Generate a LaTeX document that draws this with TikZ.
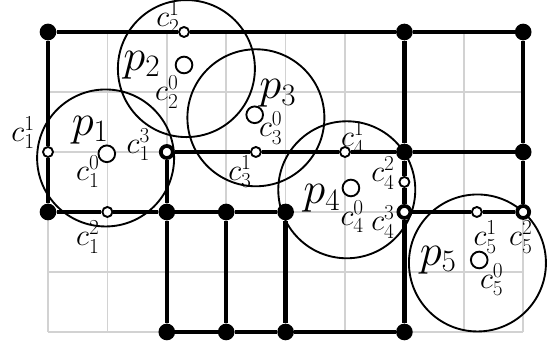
\RequirePackage{fix-cm}
\documentclass[tikz,border=0pt]{standalone}
\usepackage{amsmath,amssymb}
\usepackage{xcolor}
\usetikzlibrary{positioning}

\begin{document}
\begin{tikzpicture}[x=1.782cm, y=1.8cm,
		gridline/.style={line width=1.5pt, gray!35},
		wire/.style={line width=3.8pt},
		zone/.style={line width=1.6pt},
		fulldot/.style={circle, fill=black, inner sep=0pt, minimum size=0.5cm},
		hollow/.style={circle, draw, fill=white, line width=1.6pt, inner sep=0pt, minimum size=0.3cm},
		hollowbold/.style={hollow, line width=3.2pt, minimum size=0.36cm},
		centre/.style={hollow, minimum size=0.5cm},
		lbl/.style={font=\fontsize{26}{30}\selectfont, inner sep=0pt},
		plbl/.style={font=\fontsize{38}{44}\selectfont, inner sep=0pt}]
				\useasboundingbox (-0.808,-0.267) rectangle (8.502,5.533);
				\draw[gridline, step=1] (0,0) grid (8,5);
				
				\coordinate (P1) at (0.97, 2.90);
				\coordinate (P2) at (2.33, 4.39);
				\coordinate (P3) at (3.50, 3.57);
				\coordinate (P4) at (5.03, 2.37);
				\coordinate (P5) at (7.23, 1.15);
				
				\draw[zone] (P1) circle (2.055cm);
				\draw[zone] (P2) circle (2.055cm);
				\draw[zone] (P3) circle (2.055cm);
				\draw[zone] (P4) circle (2.055cm);
				\draw[zone] (P5) circle (2.055cm);
				
				\node[fulldot] (a05) at (0,5) {};
				\node[fulldot] (a65) at (6,5) {};
				\node[fulldot] (a85) at (8,5) {};
				\node[fulldot] (a02) at (0,2) {};
				\node[fulldot] (a22) at (2,2) {};
				\node[fulldot] (a32) at (3,2) {};
				\node[fulldot] (a42) at (4,2) {};
				\node[fulldot] (a63) at (6,3) {};
				\node[fulldot] (a83) at (8,3) {};
				\node[fulldot] (a20) at (2,0) {};
				\node[fulldot] (a30) at (3,0) {};
				\node[fulldot] (a40) at (4,0) {};
				\node[fulldot] (a60) at (6,0) {};
				
				\node[hollow] (c11) at (0,3) {};
				\node[hollow] (c12) at (1,2) {};
				\node[hollowbold] (c13) at (2,3) {};
				\node[hollow] (c21) at (2.29,5) {};
				\node[hollow] (c31) at (3.5,3) {};
				\node[hollow] (c41) at (5,3) {};
				\node[hollow] (c42) at (6,2.5) {};
				\node[hollowbold] (c43) at (6,2) {};
				\node[hollow] (c51) at (7.22,2) {};
				\node[hollowbold] (c52) at (8,2) {};
				
				\node[centre] (c10) at (0.99, 2.97) {};
				\node[centre] (c20) at (2.29, 4.45) {};
				\node[centre] (c30) at (3.48, 3.62) {};
				\node[centre] (c40) at (5.10, 2.40) {};
				\node[centre] (c50) at (7.26, 1.20) {};
				
				\draw[wire] (a05) -- (c21) -- (a65) -- (a85);
				\draw[wire] (a05) -- (c11) -- (a02) -- (c12) -- (a22) -- (a32) -- (a42);
				\draw[wire] (c13) -- (c31) -- (c41) -- (a63) -- (a83);
				\draw[wire] (c13) -- (a22) -- (a20) -- (a30) -- (a40) -- (a60);
				\draw[wire] (a32) -- (a30);
				\draw[wire] (a42) -- (a40);
				\draw[wire] (a65) -- (a63) -- (c42) -- (c43) -- (a60);
				\draw[wire] (a85) -- (a83) -- (c52) -- (c51) -- (c43);
				
				\node[plbl] (p1) at (0.71, 3.37) {$p_1$};
				\node[plbl] (p2) at (1.58, 4.45) {$p_2$};
				\node[plbl] (p3) at (3.87, 3.98) {$p_3$};
				\node[plbl] (p4) at (4.61, 2.23) {$p_4$};
				\node[plbl] (p5) at (6.57, 1.20) {$p_5$};
				
				\node[lbl] (l10) at (0.67, 2.67) {$c_1^0$};
				\node[lbl] (l11) at (-0.42, 3.32) {$c_1^1$};
				\node[lbl] (l12) at (0.67, 1.58) {$c_1^2$};
				\node[lbl] (l13) at (1.52, 3.12) {$c_1^3$};
				\node[lbl] (l20) at (2.00, 4.00) {$c_2^0$};
				\node[lbl] (l21) at (2.02, 5.24) {$c_2^1$};
				\node[lbl] (l30) at (3.75, 3.40) {$c_3^0$};
				\node[lbl] (l31) at (3.23, 2.67) {$c_3^1$};
				\node[lbl] (l40) at (5.12, 1.92) {$c_4^0$};
				\node[lbl] (l41) at (5.13, 3.23) {$c_4^1$};
				\node[lbl] (l42) at (5.64, 2.65) {$c_4^2$};
				\node[lbl] (l43) at (5.64, 1.83) {$c_4^3$};
				\node[lbl] (l50) at (7.47, 0.87) {$c_5^0$};
				\node[lbl] (l51) at (7.36, 1.58) {$c_5^1$};
				\node[lbl] (l52) at (7.96, 1.58) {$c_5^2$};
			\end{tikzpicture}
\end{document}
